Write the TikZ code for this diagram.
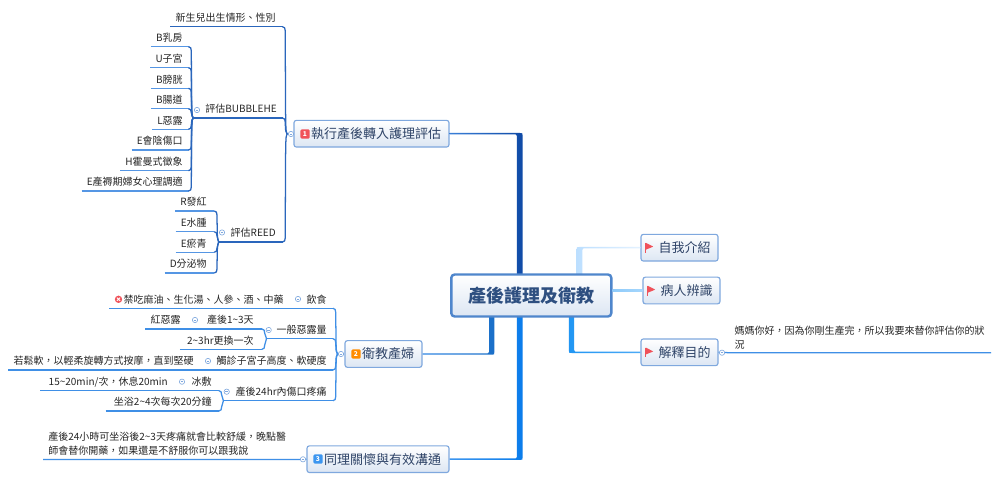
\documentclass[tikz,border=0pt]{standalone}
\usepackage{fontspec}
\setmainfont{Noto Sans CJK TC}
\usetikzlibrary{calc}
\newlength\unitpx \setlength\unitpx{.75pt}
\newcommand\pad[1]{\hspace*{#1\unitpx}}
\definecolor{gA}{HTML}{2A66BC}
\definecolor{gAl}{HTML}{5596E4}
\definecolor{gB}{HTML}{3F8FE6}
\definecolor{txt}{HTML}{262626}
\definecolor{ttl}{HTML}{2F4468}
\definecolor{nodeln}{HTML}{7FA8DE}
\definecolor{rootln}{HTML}{4F86CC}
\definecolor{rootxt}{HTML}{2E4F80}
\definecolor{nodebot}{HTML}{DCE6F3}
\definecolor{flagred}{HTML}{F0525A}
\definecolor{b1a}{HTML}{3A7FD8}
\definecolor{b1b}{HTML}{0F4AA6}
\definecolor{b2a}{HTML}{2F86E4}
\definecolor{b2b}{HTML}{1A6FC8}
\definecolor{b3a}{HTML}{3C96F0}
\definecolor{b3b}{HTML}{0A7CEB}
\definecolor{b4a}{HTML}{BCDFFF}
\definecolor{b4b}{HTML}{E4F2FF}
\definecolor{b5a}{HTML}{8FCBFA}
\definecolor{b5b}{HTML}{A5D6FC}
\definecolor{b6a}{HTML}{2196F3}
\definecolor{b6b}{HTML}{4CAAF6}
\tikzset{
 leaf/.style={inner xsep=3.75pt,inner ysep=0pt,text depth=3.7pt,anchor=south east,font=\fontsize{7.5pt}{10.5pt}\selectfont,text=txt},
 para/.style={inner xsep=4pt,inner ysep=0pt,text depth=3.2pt,anchor=south west,font=\fontsize{7.5pt}{10.5pt}\selectfont,text=txt},
 topic/.style={draw=nodeln,line width=.85pt,rounded corners=1.8pt,top color=white,bottom color=nodebot,inner sep=0pt,minimum height=20pt,font=\fontsize{9.75pt}{12pt}\selectfont,text=ttl},
 rootbox/.style={draw=rootln,line width=1.8pt,rounded corners=2.5pt,top color=white,bottom color=nodebot,inner sep=0pt,minimum width=120pt,minimum height=31.5pt,font=\fontsize{13.5pt}{16pt}\selectfont\bfseries,text=rootxt},
 ring/.style={circle,draw=#1,fill=white,line width=.45pt,minimum size=4pt,inner sep=0pt,
   path picture={\draw[#1,line width=.4pt] ([xshift=-1pt]path picture bounding box.center)--([xshift=1pt]path picture bounding box.center);}},
 ring/.default=nodeln,
 prio/.style={fill=#1,rounded corners=1pt,inner sep=0pt,minimum size=7pt,text=white,font=\fontsize{5pt}{5pt}\selectfont\bfseries},
 flagpole/.style={inner sep=0pt,minimum width=5.2pt,minimum height=7pt},
 nope/.style={circle,fill=flagred,inner sep=0pt,minimum size=5.5pt,
   path picture={\draw[white,line width=.6pt] ([shift={(-1.2pt,-1.2pt)}]path picture bounding box.center)--([shift={(1.2pt,1.2pt)}]path picture bounding box.center) ([shift={(-1.2pt,1.2pt)}]path picture bounding box.center)--([shift={(1.2pt,-1.2pt)}]path picture bounding box.center);}},
}
\newcommand\lk[4]{%
 \draw[line width=.95pt,#3] let \p1=(#1.south east),\p2=(#2) in (#1.south west) -- (\x2-3.2pt,\y1);
 \draw[line width=.95pt,#4] let \p1=(#1.south east),\p2=(#2),\n1={ifthenelse(\y2>\y1,1,-1)} in
   (\x2-3.4pt,\y1) .. controls (\x2-1.9pt,\y1) and ({\x2-1.3pt},{\y1+\n1*1.2pt}) .. ({\x2-1.3pt},{\y1+\n1*3.2pt}) .. controls ({\x2-1.1pt},{\y2-\n1*2pt}) .. (\p2);}
\newcommand\st[3]{\draw[line width=.95pt,#3] (#1) -- (#2);}
\newcommand\bran[5]{%
 \path[left color=#4,right color=#5] let \p1=(#1),\p2=(#2),
   \n1={ifthenelse(\x2>\x1,1,-1)},\n2={ifthenelse(\y2>\y1,1,-1)},\n3={#3} in
   (\x1,{\y1-\n2*.55pt}) -- ({\x2+\n1*(\n3-2.2pt)},{\y1-\n2*.55pt})
   .. controls ({\x2+\n1*\n3},{\y1-\n2*.55pt}) .. ({\x2+\n1*\n3},{\y1+\n2*1.6pt})
   -- ({\x2+\n1*\n3},\y2) -- ({\x2-\n1*\n3},\y2) -- ({\x2-\n1*\n3},{\y1+\n2*1.5pt})
   .. controls ({\x2-\n1*\n3},{\y1+\n2*.55pt}) .. ({\x2-\n1*(\n3+.8pt)},{\y1+\n2*.55pt})
   -- (\x1,{\y1+\n2*.55pt}) -- cycle;}
\begin{document}
\begin{tikzpicture}[x=.75pt,y=-.75pt]
\useasboundingbox (0,0) rectangle (1000,481);
\fill[white] (0,0) rectangle (1000,481);
\coordinate (r1) at (519.7,275);
\coordinate (r2) at (491.7,316);
\coordinate (r3) at (519.7,316);
\coordinate (r4) at (579.5,275);
\coordinate (r6) at (571.5,316);
\coordinate (j1) at (287,134);
\coordinate (j2) at (337.5,354);
% main nodes
\node[topic,minimum width=116.25pt] (n1) at (371.5,133.7) {\pad{9}執行產後轉入護理評估};
\node[topic,minimum width=57.75pt] (n2) at (383.5,354) {\pad{9}衛教產婦};
\node[topic,minimum width=106.5pt] (n3) at (378,459.2) {\pad{9}同理關懷與有效溝通};
\node[topic,minimum width=57.75pt] (m1) at (679.5,247.7) {\pad{10}自我介紹};
\node[topic,minimum width=57.75pt] (m2) at (681.5,290.5) {\pad{10}病人辨識};
\node[topic,minimum width=57.75pt] (m3) at (679.5,352.3) {\pad{10}解釋目的};
% main branches
\bran{n1.east}{r1}{2.2pt}{b1a}{b1b}
\bran{n2.east}{r2}{2pt}{b2a}{b2b}
\bran{n3.east}{r3}{2.2pt}{b3a}{b3b}
\bran{m1.west}{r4}{2.2pt}{b4a}{b4b}
\bran{m3.west}{r6}{2pt}{b6a}{b6b}
\node[rootbox] (root) at (531.3,295.5) {產後護理及衛教};
\path[left color=b5a,right color=b5b] ([yshift=.6pt]root.east |- m2.west) rectangle ([yshift=-.6pt]m2.west);
% group 1 text
\node[leaf] (a1) at (281,26.7) {新生兒出生情形、性別};
\node[leaf] (a2) at (282,118) {\pad{7}評估BUBBLEHE};
\node[leaf] (a3) at (281,242) {\pad{6.7}評估REED};
\node[leaf] (b1) at (188,46.7) {B乳房};
\node[leaf] (b2) at (188,67.7) {U子宮};
\node[leaf] (b3) at (188,88.3) {B膀胱};
\node[leaf] (b4) at (188,108.7) {B腸道};
\node[leaf] (b5) at (188,129.3) {L惡露};
\node[leaf] (b6) at (188,150) {E會陰傷口};
\node[leaf] (b7) at (188,170.7) {H霍曼式徵象};
\node[leaf] (b8) at (188,191) {E產褥期婦女心理調適};
\node[leaf] (c1) at (212,211) {R發紅};
\node[leaf] (c2) at (212,231.7) {E水腫};
\node[leaf] (c3) at (212,252.3) {E瘀青};
\node[leaf] (c4) at (212,273) {D分泌物};
% group 2 text
\node[leaf] (d1) at (332,308.3) {飲食};
\node[leaf] (d1a) at (289,308.3) {\pad{9}禁吃麻油、生化湯、人參、酒、中藥};
\node[leaf] (d2) at (332,338.7) {\pad{5}一般惡露量};
\node[leaf] (d2a) at (259,329) {產後1\char`~3天};
\node[leaf] (d2b) at (186,329) {紅惡露};
\node[leaf] (d2c) at (259,349.3) {\pad{2}2\char`~3hr更換一次};
\node[leaf] (d3) at (332,370) {觸診子宮子高度、軟硬度};
\node[leaf] (d3a) at (199,370) {若鬆軟，以輕柔旋轉方式按摩，直到堅硬};
\node[leaf] (d4) at (332,400.7) {\pad{7}產後24hr內傷口疼痛};
\node[leaf] (d4a) at (217,390.7) {冰敷};
\node[leaf] (d4b) at (173,390.7) {\pad{3}15\char`~20min/次，休息20min};
\node[leaf] (d4c) at (217,411) {\pad{3}坐浴2\char`~4次每次20分鐘};
% paragraph notes
\node[para,inner xsep=3.75pt] (e1) at (43,459.5) {\parbox[b]{250\unitpx}{產後24小時可坐浴後2\char`~3天疼痛就會比較舒緩，晚點醫\\師會替你開藥，如果還是不舒服你可以跟我說}};
\node[para] (f1) at (729,352.7) {\parbox[b]{251\unitpx}{媽媽你好，因為你剛生產完，所以我要來替你評估你的狀\\況}};
% connectors group 1
\st{j1}{n1.west}{gA}
\lk{a1}{j1}{gA}{gA}
\lk{a2}{j1}{gA}{gA}
\lk{a3}{j1}{gA}{gA}
\foreach \k in {b1,b2,b3,b4,b5,b6,b7,b8}{\lk{\k}{a2.south west}{gAl}{gA}}
\foreach \k in {c1,c2,c3,c4}{\lk{\k}{a3.south west}{gAl}{gA}}
% connectors group 2
\st{j2}{n2.west}{gB}
\foreach \k in {d1,d2,d3,d4}{\lk{\k}{j2}{gB}{gB}}
\st{d1a.south west}{d1.south west}{gB}
\lk{d2a}{d2.south west}{gB}{gB}
\lk{d2c}{d2.south west}{gB}{gB}
\st{d2b.south west}{d2a.south west}{gB}
\st{d3a.south west}{d3.south west}{gB}
\lk{d4a}{d4.south west}{gB}{gB}
\lk{d4c}{d4.south west}{gB}{gB}
\st{d4b.south west}{d4a.south west}{gB}
% notes connectors
\draw[line width=.95pt,gB] (e1.south west) -- (e1.south east) -- (n3.west);
\draw[line width=.95pt,gB] (m3.east) -- (f1.south west) -- (f1.south east);
% collapse marks
\node[ring] (rn1) at (291,134) {};
\node[ring] (rn2) at (341,354) {};
\node[ring] (rn3) at (303,459.3) {};
\node[ring] (rm3) at (722,352.7) {};
\node[ring] (ra2) at (197,110) {};
\node[ring] (ra3) at (222,232.5) {};
\node[ring] (rd1) at (298,299) {};
\node[ring] (rd2) at (268.7,330) {};
\node[ring] (rd2a) at (195,320) {};
\node[ring] (rd3) at (208,361) {};
\node[ring] (rd4) at (226.7,391.7) {};
\node[ring] (rd4a) at (182,381.7) {};
% markers
\node[prio=flagred] (p1) at (305,134) {1};
\node[prio=orange!90!yellow] (p2) at (356,354) {2};
\node[prio=b3a] (p3) at (318,459) {3};
\node[nope] (x1) at (118.5,299.3) {};
\foreach \n/\x/\y in {g1/649.5/247.7,g2/651.5/290.7,g3/649.5/352.5}{
  \node[flagpole] (\n) at (\x,\y) {};
  \fill[flagred] (\n.north west) -- ([yshift=.8pt]\n.east) -- ([yshift=-1.5pt]\n.west) -- cycle;
  \draw[flagred,line width=.7pt] (\n.north west) -- (\n.south west);
}
\end{tikzpicture}
\end{document}
